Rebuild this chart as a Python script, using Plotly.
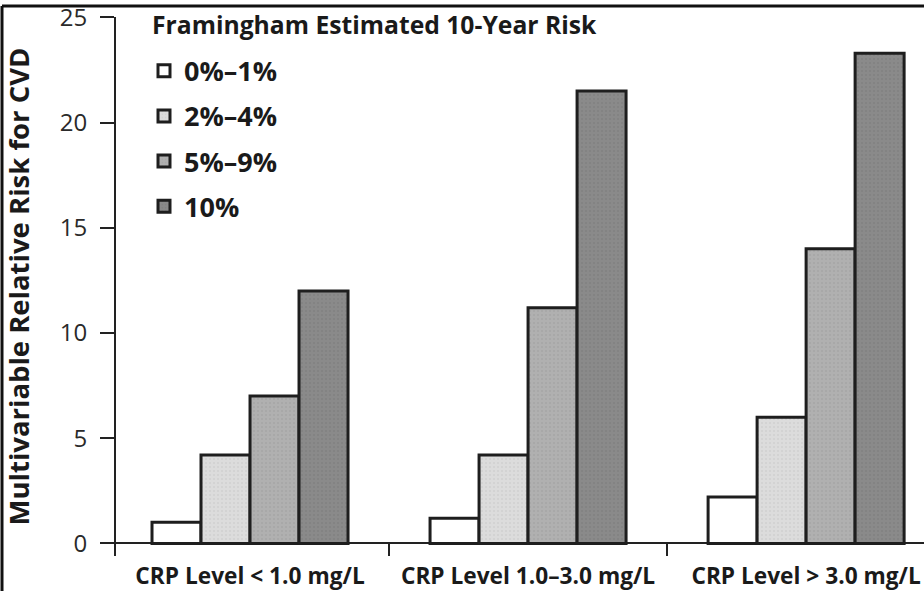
import plotly.graph_objects as go

categories = ["CRP Level < 1.0 mg/L", "CRP Level 1.0–3.0 mg/L", "CRP Level > 3.0 mg/L"]
risk_groups = ["0%–1%", "2%–4%", "5%–9%", "10%"]
values_0_1 = [1.0, 1.2, 2.2]
values_2_4 = [4.2, 4.2, 6.0]
values_5_9 = [7.0, 11.2, 14.0]
values_10 = [12.0, 21.5, 23.3]
series = [values_0_1, values_2_4, values_5_9, values_10]
colors = ["#ffffff", "#dcdcdc", "#b0b0b0", "#8a8a8a"]
dot_colors = ["#ffffff", "#c4c4c4", "#9a9a9a", "#777777"]
y_ticks = [0, 5, 10, 15, 20, 25]
legend_title = "Framingham Estimated 10-Year Risk"
y_title = "Multivariable Relative Risk for CVD"

FONT = "Open Sans"
INK = "#1a1a1a"
x_pos = list(range(len(categories)))

fig = go.Figure()
for i, (name, vals) in enumerate(zip(risk_groups, series)):
    fig.add_trace(go.Bar(
        x=x_pos, y=vals, name=name, legendgroup=name,
        marker=dict(
            color=colors[i],
            line=dict(color="#1e1e1e", width=3),
            pattern=dict(shape="." if i > 0 else "", size=4, solidity=0.2,
                         fgcolor=dot_colors[i], bgcolor=colors[i]),
        ),
    ))

W, H = 924, 591
L, R, T, B = 116, 0, 13, 35
pw, ph = W - L - R, H - T - B

def px(x):
    return (x - L) / pw

def py(y):
    return (H - B - y) / ph

fig.update_layout(
    width=W, height=H,
    margin=dict(l=L, r=R, t=T, b=B),
    paper_bgcolor="white", plot_bgcolor="white",
    barmode="group", bargap=0.295, bargroupgap=0,
    font=dict(family=FONT, color=INK),
    legend=dict(
        x=px(144), y=py(43), xanchor="left", yanchor="top",
        bgcolor="rgba(0,0,0,0)",
        font=dict(family=FONT, size=27, weight="bold", color=INK),
        tracegroupgap=7,
        traceorder="grouped",
    ),
    xaxis=dict(
        range=[-0.482, 2.424],
        tickvals=x_pos, ticktext=categories,
        ticks="", showgrid=False, showline=False, zeroline=False,
        ticklabeloverflow="allow", ticklabelstandoff=4,
        tickfont=dict(family=FONT, size=22.7, weight="bold", color=INK),
        minor=dict(tick0=0.5, dtick=1, ticks="inside", ticklen=12, tickwidth=2, tickcolor="#222"),
    ),
    yaxis=dict(
        range=[-0.6, 25.02],
        tickvals=y_ticks,
        ticks="outside", ticklen=14, tickwidth=2, tickcolor="#222",
        ticklabelstandoff=8, ticklabeloverflow="allow",
        showline=True, linecolor="#222", linewidth=2,
        showgrid=False,
        zeroline=True, zerolinecolor="#222", zerolinewidth=2,
        tickfont=dict(family=FONT, size=24, color="#2a2a2a"),
        title=dict(text=y_title,
                   font=dict(family=FONT, size=27.5, weight="bold", color=INK),
                   standoff=26),
    ),
    showlegend=True,
)

# legend heading
fig.add_annotation(xref="paper", yref="paper", x=px(150), y=py(21),
                   xanchor="left", yanchor="middle", showarrow=False,
                   text=legend_title,
                   font=dict(family=FONT, size=24.7, weight="bold", color=INK))

# image frame (top and left borders)
fig.add_shape(type="line", xref="paper", yref="paper",
              x0=px(2), x1=px(W + 5), y0=py(2), y1=py(2),
              line=dict(color="#111", width=3))
fig.add_shape(type="line", xref="paper", yref="paper",
              x0=px(2), x1=px(2), y0=py(2), y1=py(H + 5),
              line=dict(color="#111", width=3))

fig.write_html("out.html", config={"displayModeBar": False},
               post_script="document.body.style.margin='0px';")
